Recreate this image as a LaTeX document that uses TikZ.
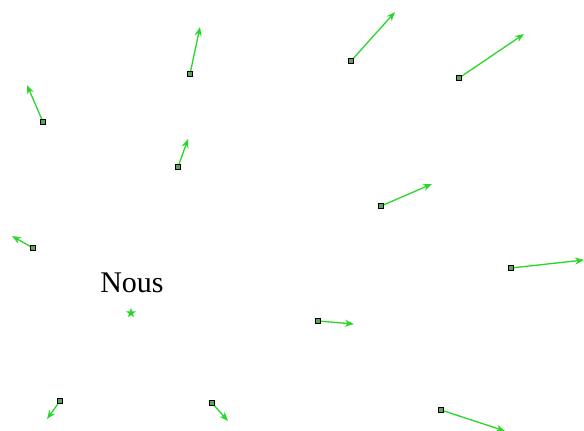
\documentclass[tikz,border=0pt]{standalone}
\usepackage{fontspec}
\setmainfont{Liberation Serif}
\usetikzlibrary{arrows.meta,shapes.geometric}
\definecolor{vecgreen}{RGB}{40,215,40}
\tikzset{
  galaxy/.style={draw=black,fill=vecgreen!40!gray,line width=1pt,minimum size=5.5pt,inner sep=0pt},
  velocity/.style={vecgreen,line width=1.3pt,-{Stealth[length=9pt,width=7pt]}}
}
\begin{document}
\begin{tikzpicture}[x=1pt,y=-1pt]
 \useasboundingbox (0,0) rectangle (584,431);
 % galaxies and their velocities
 \foreach \i/\px/\py/\tx/\ty in {1/190/74/200/27, 2/351/61/395/12, 3/459/78/524/34,
   4/43/122/27/85, 5/178/167/188/139, 6/381/206/432/184, 7/33/248/12/236,
   8/511/268/584/260, 9/318/321/354/324, 10/60/401/47/419, 11/212/403/228/421,
   12/441/410/505/431}{
   \coordinate (t\i) at (\tx,\ty);
   \node[galaxy] (g\i) at (\px,\py) {};
   \draw[velocity] (g\i.center) -- (t\i);
   \node[galaxy] at (g\i) {};
 }
 % us
 \node[star,star points=5,star point ratio=2.4,fill=vecgreen,inner sep=1.5pt] (us) at (131,313) {};
 \node[font=\fontsize{30}{30}\selectfont] (nous) at (132,283) {Nous};
\end{tikzpicture}
\end{document}
